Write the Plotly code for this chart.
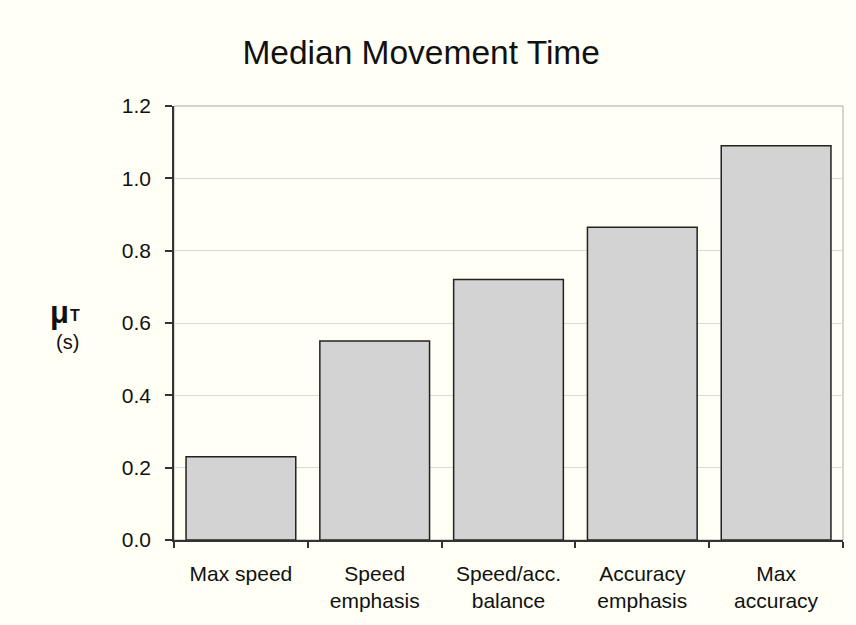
import plotly.graph_objects as go

categories = ["Max speed", "Speed<br>emphasis", "Speed/acc.<br>balance", "Accuracy<br>emphasis", "Max<br>accuracy"]
values = [0.23, 0.55, 0.72, 0.865, 1.09]
y_ticks = [0.0, 0.2, 0.4, 0.6, 0.8, 1.0, 1.2]
y_tick_labels = ["0.0", "0.2", "0.4", "0.6", "0.8", "1.0", "1.2"]

bg = "#FFFFF5"
font_family = "Liberation Sans, Arial, sans-serif"

fig = go.Figure(go.Bar(
    x=categories, y=values,
    marker=dict(color="#D3D3D3", line=dict(color="#222222", width=1.5)),
))

fig.update_layout(
    width=856, height=625,
    paper_bgcolor=bg, plot_bgcolor=bg,
    margin=dict(l=174, r=13, t=106, b=85),
    bargap=0.18,
    showlegend=False,
    font=dict(family=font_family, size=21, color="#111111"),
    title=dict(text="Median Movement Time", x=0.492, xanchor="center", y=0.917, yanchor="middle",
               font=dict(size=33.5, color="#111111", family=font_family)),
    shapes=[dict(type="rect", xref="paper", yref="paper", x0=0, y0=0, x1=1, y1=1,
                 line=dict(color="#AAAAAA", width=1), layer="below")],
    annotations=[
        dict(text="<b>μ</b>", xref="paper", yref="paper", x=-0.188, y=0.524,
             showarrow=False, font=dict(size=31, color="#111111", family=font_family)),
        dict(text="<b>T</b>", xref="paper", yref="paper", x=-0.158, y=0.517,
             showarrow=False, font=dict(size=16, color="#111111", family=font_family)),
        dict(text="(s)", xref="paper", yref="paper", x=-0.179, y=0.456,
             showarrow=False, font=dict(size=20, color="#111111", family=font_family)),
    ],
)

fig.update_yaxes(
    range=[0, 1.2], tickvals=y_ticks, ticktext=y_tick_labels,
    showgrid=True, gridcolor="#D8D8D8", gridwidth=1,
    showline=True, linecolor="#333333", linewidth=1.5,
    ticks="outside", ticklen=7, tickcolor="#333333", tickwidth=1.5,
    zeroline=False, tickfont=dict(size=21), ticklabelstandoff=10,
)
fig.update_xaxes(
    showline=True, linecolor="#333333", linewidth=1.5,
    ticks="outside", tickson="boundaries", ticklen=6, tickcolor="#333333", tickwidth=1.5,
    showgrid=False, tickfont=dict(size=21), ticklabelstandoff=14,
)

fig.write_html(
    "out.html",
    config={"displayModeBar": False},
    post_script="document.body.style.margin='0';document.body.style.background='#FFFFF5';",
)
